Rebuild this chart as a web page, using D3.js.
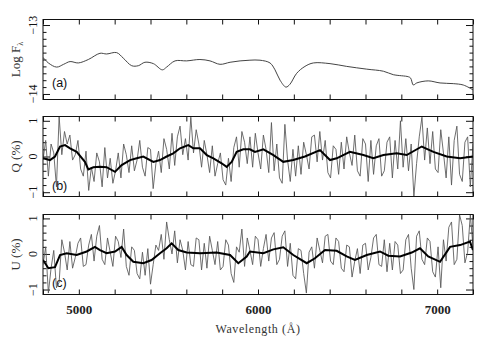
<!DOCTYPE html>
<html>
<head>
<meta charset="utf-8">
<script src="https://cdn.jsdelivr.net/npm/d3@7"></script>
<style>
body { margin: 0; background: #fff; }
text { font-family: "Liberation Serif", serif; fill: #111; }
.plab { font-family: "Liberation Sans", sans-serif; }
</style>
</head>
<body>
<script>
// Panel (a): flux spectrum
var fluxWave = [4800,4830,4876,4915,4951,4997,5053,5118,5155,5211,
                5248,5295,5332,5369,5416,5466,5490,5537,5602,5676,
                5732,5788,5844,5900,5955,6011,6067,6095,6123,6156,
                6178,6216,6262,6309,6402,6495,6607,6700,6755,6839,
                6852,6867,6886,6950,7016,7090,7146,7200];
var fluxVal = [-13.47,-13.55,-13.61,-13.57,-13.53,-13.55,-13.50,-13.41,-13.42,-13.40,
               -13.48,-13.59,-13.59,-13.54,-13.56,-13.65,-13.61,-13.52,-13.52,-13.50,
               -13.52,-13.57,-13.54,-13.52,-13.51,-13.51,-13.55,-13.65,-13.80,-13.90,
               -13.86,-13.70,-13.60,-13.55,-13.56,-13.60,-13.64,-13.67,-13.72,-13.75,
               -13.77,-13.87,-13.84,-13.81,-13.84,-13.85,-13.87,-13.94];

// raw polarisation, sampled every 15 A from 4800 to 7200
var rawWave = d3.range(4800, 7201, 15);
var qRaw = [-0.10, 0.45,-0.55, 0.35, 0.10,-0.85, 1.12, 0.05, 0.70, 0.35,
             0.60,-0.10, 0.05, 0.45,-0.35,-0.55, 0.15,-0.95,-0.30,-0.70,
             0.10,-0.15,-0.85, 0.25,-0.60,-0.05,-0.75,-0.40, 0.10,-0.60,
             0.35, 0.05,-0.45, 0.30,-0.40,-0.10, 0.45,-0.30,-0.55, 0.25,
             0.20,-0.90,-0.20, 0.15,-0.45, 0.50, 0.20,-0.35, 0.65,-0.25,
             0.55, 0.85, 0.05, 0.50,-0.10, 1.10, 0.10, 0.75, 0.35,-0.30,
             0.45, 0.05,-0.45, 0.30,-0.55,-0.20, 0.10,-0.65,-0.80,-0.05,
            -0.70, 0.25, 0.55,-0.30, 0.70, 0.40,-0.20, 0.55,-0.30, 0.65,
             0.10,-0.35, 0.60, 0.20,-0.45, 0.95,-0.40, 0.35,-0.60,-0.75,
             0.90,-0.10,-0.70, 0.20,-0.55, 0.30,-0.50, 0.40, 0.05,-0.35,
             0.55, 0.60,-0.15, 0.70,-0.10, 0.45,-0.45,-0.60, 0.30, 0.20,
            -0.50, 0.40,-0.35, 0.55, 0.10,-0.25, 0.60,-0.40,-0.55, 0.50,
             0.35,-0.70, 0.45,-0.50, 0.30, 0.50,-0.55,-0.40, 0.40, 0.55,
            -0.60, 0.45,-0.35, 1.00,-0.30, 0.50,-0.40, 0.35,-1.12,-0.20,
             0.55, 1.10,-0.10, 0.80,-0.20, 0.70,-0.35,-0.45, 0.75, 0.10,
            -0.60, 0.55,-0.80, 0.45, 0.85,-0.50,-0.70, 0.40, 0.55,-0.85,
             0.35];
var uRaw = [-0.30, 0.20,-1.10,-0.40, 0.10,-0.95,-0.80, 0.40, 0.05,-0.45,
             0.35,-0.40,-0.10, 0.30, 0.45,-0.35,-0.30, 0.25, 0.55,-0.20,
             0.50, 0.80,-0.15,-0.30, 0.45, 0.05,-0.35, 0.50, 0.35,-0.10,
             0.70,-0.35,-0.60, 0.20, 0.10,-0.55,-0.70, 0.05,-0.60, 0.15,
            -0.85,-0.30, 0.25, 0.10, 0.55,-0.15, 0.90, 0.40, 0.00, 0.65,
            -0.25, 0.40, 0.10,-0.45, 0.35,-0.30,-0.35, 0.45, 0.40,-0.45,
             0.30,-0.40, 0.50, 0.10,-0.30, 0.35,-0.45,-0.35, 0.40, 0.25,
            -0.55,-0.80, 0.20, 0.05, 0.70,-0.35, 0.45, 0.10,-0.30, 0.50,
             0.40,-0.35, 0.15, 0.55,-0.20, 0.45, 0.60,-0.30,-0.15, 0.50,
             0.65,-0.35, 0.30,-0.60,-0.70, 0.15, 0.10,-0.55,-1.10, 0.05,
             0.20,-0.40, 0.45, 0.10,-0.25, 0.50, 0.55,-0.20,-0.30, 0.45,
             0.35,-0.40,-0.50, 0.25, 0.20,-0.65,-0.20, 0.15,-0.55, 0.25,
             0.30,-0.45,-0.10, 0.45, 0.55,-0.30,-0.35, 0.40,-0.50, 0.30,
            -0.45, 0.35, 0.25,-0.55,-0.45, 0.40, 0.55,-0.40,-1.00, 0.50,
             0.65,-0.15,-0.30, 0.45, 0.35,-0.50,-0.65, 0.20,-0.95, 0.40,
            -0.20, 0.75, 0.90,-0.30,-0.15, 1.10, 0.80,-0.25, 0.05, 1.10,
             0.20];

// smoothed polarisation
var qSmWave = [4800,4839,4867,4895,4923,4951,4988,5034,5053,5081,
               5118,5155,5202,5239,5286,5323,5360,5416,5453,5490,
               5527,5565,5611,5639,5676,5714,5751,5797,5825,5853,
               5881,5918,5955,5983,6030,6086,6141,6197,6262,6346,
               6402,6439,6513,6588,6644,6700,6774,6830,6914,6979,
               7053,7128,7200];
var qSmVal = [-0.05,-0.10,0.00,0.28,0.32,0.23,0.13,-0.15,-0.36,-0.30,
              -0.29,-0.30,-0.43,-0.24,-0.10,-0.05,0.00,-0.15,-0.10,0.00,
              0.09,0.23,0.32,0.23,0.23,0.04,-0.05,-0.19,-0.29,-0.15,
              0.13,0.20,0.20,0.13,0.20,0.04,-0.15,-0.10,0.00,0.18,
              -0.10,-0.05,0.13,0.04,-0.05,0.04,0.09,0.04,0.28,0.13,
              0.00,-0.05,0.00];
var uSmWave = [4800,4830,4867,4895,4932,4988,5044,5090,5118,5155,
               5202,5239,5267,5304,5360,5406,5453,5490,5518,5555,
               5602,5676,5769,5844,5890,5937,5955,6030,6086,6141,
               6197,6272,6318,6374,6439,6495,6541,6607,6681,6727,
               6793,6858,6904,6950,7016,7072,7128,7183,7200];
var uSmVal = [-0.17,-0.40,-0.37,-0.03,0.02,-0.03,0.07,0.20,0.11,0.02,
              0.07,0.20,-0.03,-0.22,-0.26,-0.17,0.02,0.16,0.30,0.11,
              0.04,0.02,0.04,-0.03,-0.26,-0.07,0.07,0.02,0.13,0.19,
              -0.03,-0.26,-0.12,0.11,0.09,-0.07,-0.17,-0.03,0.07,-0.05,
              -0.07,0.04,0.16,-0.07,-0.22,0.20,0.25,0.35,0.11];

var xTickVals = d3.range(4800, 7201, 200);
var xLabelVals = [5000, 6000, 7000];

var width = 491, height = 354;
var left = 43, right = 473;

var svg = d3.select("body").append("svg")
    .attr("width", width)
    .attr("height", height);

var x = d3.scaleLinear().domain([4800, 7200]).range([left, right]);

var panels = [
  {top: 19.5, bottom: 99.5, domain: [-14.08, -12.92], major: [-13, -14],
   minor: d3.range(1, 10).map(function(i) { return -13 - i / 10; }),
   title: "Log F", sub: "\u03bb", tag: "(a)", tagY: 87},
  {top: 116.5, bottom: 196.5, domain: [-1.12, 1.12], major: [-1, 0, 1],
   minor: [-0.8, -0.6, -0.4, -0.2, 0.2, 0.4, 0.6, 0.8],
   title: "Q (%)", tag: "(b)", tagY: 190},
  {top: 214.5, bottom: 294.5, domain: [-1.14, 1.11], major: [-1, 0, 1],
   minor: [-0.8, -0.6, -0.4, -0.2, 0.2, 0.4, 0.6, 0.8],
   title: "U (%)", tag: "(c)", tagY: 287}
];

panels.forEach(function(p, i) {
  p.y = d3.scaleLinear().domain(p.domain).range([p.bottom, p.top]);
  var g = svg.append("g");

  g.append("clipPath").attr("id", "clip" + i)
    .append("rect")
      .attr("x", left).attr("y", p.top)
      .attr("width", right - left).attr("height", p.bottom - p.top);

  // tick marks, all pointing inward
  g.append("g").attr("transform", "translate(0," + p.bottom + ")")
    .call(d3.axisBottom(x).tickValues(xTickVals).tickSize(-5).tickFormat(""));
  g.append("g").attr("transform", "translate(0," + p.top + ")")
    .call(d3.axisTop(x).tickValues(xTickVals).tickSize(-5).tickFormat(""));
  g.append("g").attr("transform", "translate(" + left + ",0)")
    .call(d3.axisLeft(p.y).tickValues(p.major).tickSize(-7).tickFormat(""));
  g.append("g").attr("transform", "translate(" + left + ",0)")
    .call(d3.axisLeft(p.y).tickValues(p.minor).tickSize(-3.5).tickFormat(""));
  g.append("g").attr("transform", "translate(" + right + ",0)")
    .call(d3.axisRight(p.y).tickValues(p.major).tickSize(-7).tickFormat(""));
  g.append("g").attr("transform", "translate(" + right + ",0)")
    .call(d3.axisRight(p.y).tickValues(p.minor).tickSize(-3.5).tickFormat(""));
  g.selectAll(".domain").remove();
  g.selectAll(".tick line").attr("stroke", "#111");

  // rotated y tick labels
  g.selectAll(".ylab").data(p.major).enter().append("text")
    .attr("transform", function(d) { return "translate(37," + p.y(d) + ") rotate(-90)"; })
    .attr("text-anchor", "middle")
    .style("font-size", "12px")
    .text(function(d) { return d3.format("d")(d); });

  // y title
  var t = g.append("text")
    .attr("transform", "translate(20," + ((p.top + p.bottom) / 2) + ") rotate(-90)")
    .attr("text-anchor", "middle")
    .style("font-size", "13px")
    .style("fill", "#333")
    .text(p.title);
  if (p.sub) {
    t.append("tspan").attr("dy", 3).style("font-size", "8px").text(p.sub);
  }

  // panel tag
  g.append("text").attr("class", "plab")
    .attr("x", 52).attr("y", p.tagY)
    .style("font-size", "12.5px")
    .text(p.tag);

  p.g = g;
});

// panel (a) spectrum
var pa = panels[0];
pa.g.append("path")
  .datum(fluxWave.map(function(w, i) { return [w, fluxVal[i]]; }))
  .attr("clip-path", "url(#clip0)")
  .attr("fill", "none")
  .attr("stroke", "#444")
  .attr("stroke-width", 1)
  .attr("d", d3.line()
      .x(function(d) { return x(d[0]); })
      .y(function(d) { return pa.y(d[1]); })
      .curve(d3.curveCatmullRom));

// panels (b) and (c): raw + smoothed
[[panels[1], qRaw, qSmWave, qSmVal, 1], [panels[2], uRaw, uSmWave, uSmVal, 2]].forEach(function(s) {
  var p = s[0];
  var line = d3.line()
      .x(function(d) { return x(d[0]); })
      .y(function(d) { return p.y(d[1]); });
  p.g.append("path")
    .datum(rawWave.map(function(w, i) { return [w, s[1][i]]; }))
    .attr("clip-path", "url(#clip" + s[4] + ")")
    .attr("fill", "none")
    .attr("stroke", "#555")
    .attr("stroke-width", 0.85)
    .attr("d", line);
  p.g.append("path")
    .datum(s[2].map(function(w, i) { return [w, s[3][i]]; }))
    .attr("clip-path", "url(#clip" + s[4] + ")")
    .attr("fill", "none")
    .attr("stroke", "#000")
    .attr("stroke-width", 2)
    .attr("d", line);
});

// frames on top
panels.forEach(function(p) {
  svg.append("rect")
    .attr("x", left).attr("y", p.top)
    .attr("width", right - left).attr("height", p.bottom - p.top)
    .attr("fill", "none").attr("stroke", "#111").attr("stroke-width", 1);
});

// x tick labels and title
var pc = panels[2];
svg.append("g").attr("transform", "translate(0," + pc.bottom + ")")
  .call(d3.axisBottom(x).tickValues(xLabelVals).tickSize(0).tickPadding(10).tickFormat(d3.format("d")))
  .call(function(g) { g.select(".domain").remove(); })
  .selectAll("text")
    .style("font-family", "'Liberation Serif', serif")
    .style("font-size", "13px")
    .style("font-weight", "bold")
    .style("fill", "#222");

svg.append("text")
  .attr("x", x(6000)).attr("y", 333)
  .attr("text-anchor", "middle")
  .style("font-size", "12px")
  .style("letter-spacing", "0.6px")
  .style("fill", "#333")
  .text("Wavelength (\u00c5)");
</script>
</body>
</html>
